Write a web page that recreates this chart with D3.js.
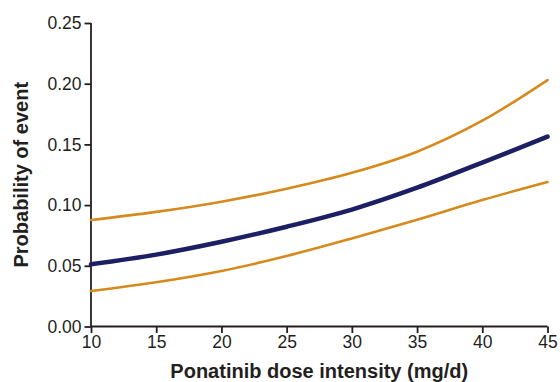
<!DOCTYPE html>
<html>
<head>
<meta charset="utf-8">
<script src="https://cdn.jsdelivr.net/npm/d3@7"></script>
<style>
  html, body { margin: 0; padding: 0; background: #fff; }
  svg { display: block; }
</style>
</head>
<body>
<svg id="chart" width="560" height="382"></svg>
<script>
// Data
const doses = [10, 15, 20, 25, 30, 35, 40, 45];
const estimate = [0.0512, 0.0592, 0.0698, 0.0822, 0.0963, 0.1143, 0.1350, 0.1564];
const upperCI = [0.0877, 0.0944, 0.1028, 0.1135, 0.1266, 0.1440, 0.1695, 0.2030];
const lowerCI = [0.0292, 0.0364, 0.0457, 0.0580, 0.0725, 0.0880, 0.1042, 0.1190];
const xTicks = [10, 15, 20, 25, 30, 35, 40, 45];
const yTicks = [0, 0.05, 0.10, 0.15, 0.20, 0.25];
const xTitle = "Ponatinib dose intensity (mg/d)";
const yTitle = "Probability of event";

const svg = d3.select("#chart");
const margin = { left: 91, right: 12.5, top: 23, bottom: 55.5 };
const W = 560, H = 382;

const x = d3.scaleLinear().domain([10, 45]).range([margin.left, W - margin.right]);
const y = d3.scaleLinear().domain([0, 0.25]).range([H - margin.bottom, margin.top]);

const font = "Liberation Sans, Arial, Helvetica, sans-serif";
const axisColor = "#231f20";

// Y axis
const yAxis = svg.append("g")
  .attr("transform", `translate(${margin.left},0)`)
  .call(d3.axisLeft(y).tickValues(yTicks).tickFormat(d3.format(".2f")).tickSize(6.5).tickPadding(3));
// X axis
const xAxis = svg.append("g")
  .attr("transform", `translate(0,${H - margin.bottom})`)
  .call(d3.axisBottom(x).tickValues(xTicks).tickFormat(d3.format("d")).tickSize(6.5).tickPadding(3));

[yAxis, xAxis].forEach(g => {
  g.select(".domain").attr("stroke", axisColor).attr("stroke-width", 1.8);
  g.selectAll(".tick line").attr("stroke", axisColor).attr("stroke-width", 1.8);
  g.selectAll(".tick text").attr("fill", "#231f20")
    .style("font-family", font).style("font-size", "17.5px");
});
yAxis.select(".domain").attr("d", `M0,${y(0)}V${y(0.25)}`);
xAxis.select(".domain").attr("d", `M${x(10)},0H${x(45)}`);

// Lines
const line = d3.line()
  .x((d, i) => x(doses[i]))
  .y(d => y(d))
  .curve(d3.curveCatmullRom.alpha(0.5));

const series = [
  { vals: upperCI, color: "#d68a1e", width: 2.6 },
  { vals: lowerCI, color: "#d68a1e", width: 2.6 },
  { vals: estimate, color: "#1c1f63", width: 4.5 }
];
svg.append("g").selectAll("path")
  .data(series)
  .join("path")
  .attr("d", d => line(d.vals))
  .attr("fill", "none")
  .attr("stroke", d => d.color)
  .attr("stroke-width", d => d.width)
  .attr("stroke-linecap", "round");

// Axis titles
svg.append("text")
  .attr("x", (x(10) + x(45)) / 2)
  .attr("y", 378)
  .attr("text-anchor", "middle")
  .style("font-family", font).style("font-size", "20px").style("font-weight", "bold")
  .attr("fill", "#231f20")
  .text(xTitle);

svg.append("text")
  .attr("transform", `translate(28,${(y(0) + y(0.25)) / 2}) rotate(-90)`)
  .attr("text-anchor", "middle")
  .style("font-family", font).style("font-size", "20px").style("font-weight", "bold")
  .attr("fill", "#231f20")
  .text(yTitle);
</script>
</body>
</html>
